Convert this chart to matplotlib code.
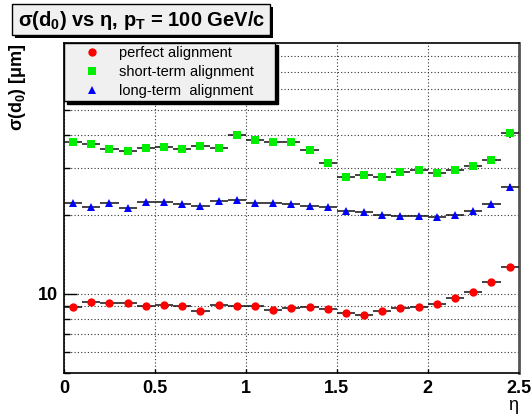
import numpy as np
import matplotlib
matplotlib.use("Agg")
import matplotlib.pyplot as plt
from matplotlib.patches import Rectangle
from matplotlib.ticker import LogLocator, NullFormatter, FixedLocator, FixedFormatter

plt.rcParams['font.family'] = ['Liberation Sans', 'DejaVu Sans']
plt.rcParams['mathtext.fontset'] = 'custom'
plt.rcParams['mathtext.default'] = 'bf'
plt.rcParams['mathtext.bf'] = 'Liberation Sans:bold'
plt.rcParams['mathtext.rm'] = 'Liberation Sans'

# eta bin centres (bin width 0.1)
eta = np.arange(0.05, 2.5, 0.1)

perfect = [8.92, 9.27, 9.19, 9.22, 8.98, 9.08, 8.96, 8.62, 9.08, 9.00,
           8.98, 8.65, 8.85, 8.90, 8.77, 8.42, 8.28, 8.62, 8.85, 8.90,
           9.14, 9.66, 10.15, 11.08, 12.67]
perfect_err = [0.05] * 22 + [0.08, 0.12, 0.2]

short_term = [37.7, 37.0, 35.4, 34.9, 35.8, 36.2, 35.5, 36.5, 35.8, 40.1,
              38.5, 37.8, 37.7, 35.2, 31.5, 27.9, 28.3, 27.9, 29.0, 29.5,
              28.8, 29.6, 30.7, 32.3, 40.8]
short_err = [0.2] * 22 + [0.3, 0.4, 1.6]

long_term = [22.1, 21.4, 22.1, 21.1, 22.3, 22.3, 21.9, 21.6, 22.5, 22.7,
             22.1, 22.2, 22.0, 21.6, 21.4, 20.7, 20.5, 19.9, 19.8, 19.8,
             19.5, 19.9, 20.6, 22.0, 25.4]
long_err = [0.1] * 22 + [0.15, 0.25, 0.8]

labels = ["perfect alignment", "short-term alignment", "long-term  alignment"]

W, H = 532, 420
fig = plt.figure(figsize=(W / 100, H / 100), dpi=100)
ax = fig.add_axes([64 / W, 1 - 372.7 / H, (518.7 - 64) / W, (372.7 - 43.3) / H])


def px_box(x0, y0, x1, y1, shadow=3):
    # box in pixel coords (origin top-left) with ROOT-like black shadow
    tr = fig.transFigure
    fig.patches.append(Rectangle(((x0 + shadow) / W, 1 - (y1 + shadow) / H),
                                 (x1 - x0) / W, (y1 - y0) / H,
                                 transform=tr, facecolor="black", edgecolor="none", zorder=1))
    fig.patches.append(Rectangle((x0 / W, 1 - y1 / H), (x1 - x0) / W, (y1 - y0) / H,
                                 transform=tr, facecolor="#f0f0f0", edgecolor="black",
                                 linewidth=1, zorder=2))


styles = [(perfect, perfect_err, "o", "#ff0000"),
          (short_term, short_err, "s", "#00ee00"),
          (long_term, long_err, "^", "#0000ff")]
handles = []
for vals, errs, mk, col in styles:
    c = ax.errorbar(eta, vals, xerr=0.05, yerr=errs, fmt=mk, color=col,
                    markersize=6, markeredgewidth=0, ecolor="#111111",
                    elinewidth=1.1, capsize=1.8, capthick=1.1, zorder=3)
    handles.append(c[0])

ax.set_yscale("log")
ax.set_xlim(0, 2.5)
ax.set_ylim(5.0, 89.7)

ax.xaxis.set_major_locator(FixedLocator([0, 0.5, 1, 1.5, 2, 2.5]))
ax.xaxis.set_major_formatter(FixedFormatter(["0", "0.5", "1", "1.5", "2", "2.5"]))
ax.yaxis.set_major_locator(FixedLocator([10]))
ax.yaxis.set_major_formatter(FixedFormatter(["10"]))
ax.yaxis.set_minor_locator(LogLocator(base=10, subs=np.arange(2, 10)))
ax.yaxis.set_minor_formatter(NullFormatter())

ax.tick_params(axis="x", which="major", direction="in", length=3, width=1,
               labelsize=13, pad=5, top=False)
ax.tick_params(axis="y", which="major", direction="in", length=9, width=1,
               labelsize=13, pad=4, right=False)
ax.tick_params(axis="y", which="minor", direction="in", length=4, width=1, right=False)
for lab in ax.get_xticklabels() + ax.get_yticklabels():
    lab.set_fontweight("bold")

ax.grid(True, which="major", axis="x", color="#333333", linestyle=(0, (1, 2)), linewidth=0.8)
ax.grid(True, which="both", axis="y", color="#333333", linestyle=(0, (1, 2)), linewidth=0.8)
ax.set_axisbelow(True)
for s in ax.spines.values():
    s.set_linewidth(1.2)
ax.spines["right"].set_color("#555555")
ax.spines["right"].set_linewidth(2)

# title box
px_box(12, 4, 270, 35)
fig.text(142 / W, 1 - 20 / H, "σ(d$_0$) vs η, p$_T$ = 100 GeV/c",
         ha="center", va="center", fontsize=14.5, fontweight="bold", zorder=5)

# legend
leg = fig.legend(handles=handles, labels=labels, loc="upper left",
                 bbox_to_anchor=(64 / W, 1 - 42.7 / H, (275 - 64) / W, 0.0),
                 mode="expand", borderaxespad=0, borderpad=0.25, labelspacing=0.32,
                 handlelength=3.4, handletextpad=0.1, numpoints=1, fontsize=10.5,
                 fancybox=False, framealpha=1, facecolor="#f0f0f0", edgecolor="black",
                 shadow={"color": "black", "alpha": 1})
leg.get_frame().set_linewidth(1)

fig.text(18 / W, 1 - 43 / H, "σ(d$_0$) [μm]", rotation=90, ha="center", va="top",
         fontsize=13, fontweight="bold")
fig.text(518 / W, 1 - 405 / H, "η", ha="right", va="center", fontsize=13)

fig.savefig("out.png", dpi=100)
